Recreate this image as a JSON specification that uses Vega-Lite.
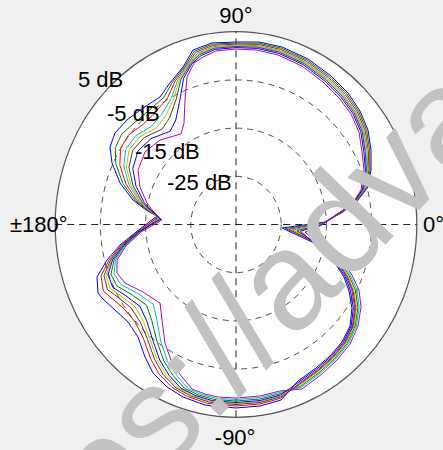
{
"$schema": "https://vega.github.io/schema/vega-lite/v6.json",
"width": 443, "height": 450, "autosize": {"type": "none"}, "padding": 0,
"background": "#f0f0f0",
"config": {"view": {"stroke": null}},
"datasets": {
"outer": [{"r": 40}],
"rings": [{"r": 10}, {"r": 20}, {"r": 30}],
"axes": [{"x": -40, "x2": 40, "y": 0, "y2": 0}, {"x": 0, "x2": 0, "y": -40, "y2": 40}],
"labelsLeft": [{"t": "5 dB", "x": -34.96, "y": 28.53}, {"t": "-5 dB", "x": -28.54, "y": 21.47}, {"t": "-15 dB", "x": -22.35, "y": 13.59}, {"t": "-25 dB", "x": -15.27, "y": 7.16}, {"t": "±180°", "x": -50.0, "y": -1.56}, {"t": "0°", "x": 41.37, "y": -1.56}],
"labelsCenter": [{"t": "90°", "x": 0, "y": 41.8}, {"t": "-90°", "x": -0.2, "y": -45.75}],
"curves": [
{"s":"b1","i":1,"x":10.18,"y":-0.73},{"s":"b1","i":2,"x":19.69,"y":0.52},{"s":"b1","i":3,"x":23.67,"y":2.59},{"s":"b1","i":4,"x":26.99,"y":5.08},{"s":"b1","i":5,"x":29.2,"y":7.78},{"s":"b1","i":6,"x":29.87,"y":11.31},{"s":"b1","i":7,"x":29.87,"y":15.46},{"s":"b1","i":8,"x":29.2,"y":19.61},{"s":"b1","i":9,"x":27.43,"y":23.55},{"s":"b1","i":10,"x":24.78,"y":27.28},{"s":"b1","i":11,"x":21.02,"y":30.81},{"s":"b1","i":12,"x":15.93,"y":34.34},{"s":"b1","i":13,"x":10.18,"y":36.83},{"s":"b1","i":14,"x":5.09,"y":37.86},{"s":"b1","i":15,"x":0,"y":37.86},{"s":"b1","i":16,"x":-5.31,"y":37.66},{"s":"b1","i":17,"x":-9.51,"y":36.2},{"s":"b1","i":18,"x":-11.73,"y":32.68},{"s":"b1","i":19,"x":-14.6,"y":29.36},{"s":"b1","i":20,"x":-16.81,"y":26.45},{"s":"b1","i":21,"x":-20.58,"y":24.17},{"s":"b1","i":22,"x":-24.12,"y":21.68},{"s":"b1","i":23,"x":-26.77,"y":18.98},{"s":"b1","i":24,"x":-27.88,"y":16.08},{"s":"b1","i":25,"x":-27.43,"y":12.76},{"s":"b1","i":26,"x":-25.66,"y":8.61},{"s":"b1","i":27,"x":-22.79,"y":5.08},{"s":"b1","i":28,"x":-19.91,"y":3.01},{"s":"b1","i":29,"x":-17.48,"y":1.76},{"s":"b1","i":30,"x":-22.12,"y":-1.56},{"s":"b1","i":31,"x":-25.66,"y":-4.25},{"s":"b1","i":32,"x":-28.54,"y":-7.37},{"s":"b1","i":33,"x":-30.75,"y":-10.89},{"s":"b1","i":34,"x":-30.53,"y":-14.21},{"s":"b1","i":35,"x":-29.43,"y":-15.46},{"s":"b1","i":36,"x":-26.77,"y":-17.74},{"s":"b1","i":37,"x":-23.89,"y":-20.23},{"s":"b1","i":38,"x":-21.68,"y":-23.34},{"s":"b1","i":39,"x":-20.13,"y":-27.49},{"s":"b1","i":40,"x":-18.36,"y":-30.81},{"s":"b1","i":41,"x":-15.27,"y":-33.71},{"s":"b1","i":42,"x":-11.73,"y":-35.79},{"s":"b1","i":43,"x":-6.86,"y":-37.45},{"s":"b1","i":44,"x":0,"y":-38.07},{"s":"b1","i":45,"x":5.31,"y":-37.66},{"s":"b1","i":46,"x":9.96,"y":-36.41},{"s":"b1","i":47,"x":13.72,"y":-32.47},{"s":"b1","i":48,"x":17.7,"y":-29.77},{"s":"b1","i":49,"x":20.8,"y":-27.28},{"s":"b1","i":50,"x":23.45,"y":-24.38},{"s":"b1","i":51,"x":25.22,"y":-21.06},{"s":"b1","i":52,"x":25.66,"y":-17.32},{"s":"b1","i":53,"x":25.0,"y":-13.8},{"s":"b1","i":54,"x":23.89,"y":-10.89},{"s":"b1","i":55,"x":21.9,"y":-7.99},{"s":"b1","i":56,"x":19.47,"y":-5.5},{"s":"b1","i":57,"x":16.81,"y":-3.63},{"s":"b1","i":58,"x":10.18,"y":-0.73},
{"s":"g","i":1,"x":10.94,"y":-0.85},{"s":"g","i":2,"x":19.52,"y":0.4},{"s":"g","i":3,"x":23.47,"y":2.53},{"s":"g","i":4,"x":26.79,"y":4.96},{"s":"g","i":5,"x":28.97,"y":7.69},{"s":"g","i":6,"x":29.64,"y":11.31},{"s":"g","i":7,"x":29.57,"y":15.4},{"s":"g","i":8,"x":28.9,"y":19.55},{"s":"g","i":9,"x":27.13,"y":23.46},{"s":"g","i":10,"x":24.48,"y":27.12},{"s":"g","i":11,"x":20.75,"y":30.62},{"s":"g","i":12,"x":15.73,"y":34.12},{"s":"g","i":13,"x":10.05,"y":36.58},{"s":"g","i":14,"x":5.02,"y":37.61},{"s":"g","i":15,"x":0,"y":37.64},{"s":"g","i":16,"x":-5.18,"y":37.41},{"s":"g","i":17,"x":-9.18,"y":35.98},{"s":"g","i":18,"x":-11.36,"y":32.8},{"s":"g","i":19,"x":-14.04,"y":29.55},{"s":"g","i":20,"x":-15.98,"y":26.36},{"s":"g","i":21,"x":-19.22,"y":23.7},{"s":"g","i":22,"x":-22.33,"y":21.24},{"s":"g","i":23,"x":-25.28,"y":18.76},{"s":"g","i":24,"x":-26.72,"y":15.92},{"s":"g","i":25,"x":-26.57,"y":12.54},{"s":"g","i":26,"x":-25.0,"y":8.49},{"s":"g","i":27,"x":-22.32,"y":4.99},{"s":"g","i":28,"x":-19.68,"y":2.98},{"s":"g","i":29,"x":-17.31,"y":1.64},{"s":"g","i":30,"x":-21.35,"y":-1.56},{"s":"g","i":31,"x":-24.74,"y":-4.4},{"s":"g","i":32,"x":-26.99,"y":-7.37},{"s":"g","i":33,"x":-27.66,"y":-10.31},{"s":"g","i":34,"x":-26.35,"y":-12.76},{"s":"g","i":35,"x":-23.23,"y":-14.44},{"s":"g","i":36,"x":-19.8,"y":-16.72},{"s":"g","i":37,"x":-18.63,"y":-19.94},{"s":"g","i":38,"x":-17.5,"y":-24.22},{"s":"g","i":39,"x":-15.95,"y":-28.36},{"s":"g","i":40,"x":-13.87,"y":-31.39},{"s":"g","i":41,"x":-11.39,"y":-34.0},{"s":"g","i":42,"x":-8.32,"y":-35.36},{"s":"g","i":43,"x":-4.84,"y":-36.29},{"s":"g","i":44,"x":0,"y":-36.62},{"s":"g","i":45,"x":5.31,"y":-36.2},{"s":"g","i":46,"x":9.8,"y":-35.1},{"s":"g","i":47,"x":14.29,"y":-33.55},{"s":"g","i":48,"x":18.56,"y":-30.58},{"s":"g","i":49,"x":21.81,"y":-27.82},{"s":"g","i":50,"x":24.6,"y":-24.65},{"s":"g","i":51,"x":26.37,"y":-21.06},{"s":"g","i":52,"x":26.96,"y":-17.19},{"s":"g","i":53,"x":26.44,"y":-13.66},{"s":"g","i":54,"x":25.04,"y":-10.62},{"s":"g","i":55,"x":22.91,"y":-7.72},{"s":"g","i":56,"x":20.33,"y":-5.36},{"s":"g","i":57,"x":17.1,"y":-3.36},{"s":"g","i":58,"x":10.94,"y":-0.85},
{"s":"r","i":1,"x":11.71,"y":-0.98},{"s":"r","i":2,"x":19.36,"y":0.27},{"s":"r","i":3,"x":23.27,"y":2.47},{"s":"r","i":4,"x":26.59,"y":4.83},{"s":"r","i":5,"x":28.74,"y":7.59},{"s":"r","i":6,"x":29.41,"y":11.31},{"s":"r","i":7,"x":29.27,"y":15.33},{"s":"r","i":8,"x":28.6,"y":19.48},{"s":"r","i":9,"x":26.83,"y":23.36},{"s":"r","i":10,"x":24.18,"y":26.97},{"s":"r","i":11,"x":20.49,"y":30.44},{"s":"r","i":12,"x":15.53,"y":33.9},{"s":"r","i":13,"x":9.91,"y":36.33},{"s":"r","i":14,"x":4.96,"y":37.36},{"s":"r","i":15,"x":0,"y":37.43},{"s":"r","i":16,"x":-5.04,"y":37.16},{"s":"r","i":17,"x":-8.85,"y":35.77},{"s":"r","i":18,"x":-11.0,"y":32.93},{"s":"r","i":19,"x":-13.47,"y":29.73},{"s":"r","i":20,"x":-15.15,"y":26.26},{"s":"r","i":21,"x":-17.86,"y":23.24},{"s":"r","i":22,"x":-20.53,"y":20.81},{"s":"r","i":23,"x":-23.78,"y":18.54},{"s":"r","i":24,"x":-25.55,"y":15.77},{"s":"r","i":25,"x":-25.7,"y":12.32},{"s":"r","i":26,"x":-24.33,"y":8.36},{"s":"r","i":27,"x":-21.86,"y":4.89},{"s":"r","i":28,"x":-19.45,"y":2.95},{"s":"r","i":29,"x":-17.15,"y":1.51},{"s":"r","i":30,"x":-21.9,"y":-1.56},{"s":"r","i":31,"x":-25.4,"y":-4.29},{"s":"r","i":32,"x":-28.1,"y":-7.37},{"s":"r","i":33,"x":-29.87,"y":-10.72},{"s":"r","i":34,"x":-29.34,"y":-13.8},{"s":"r","i":35,"x":-27.66,"y":-15.17},{"s":"r","i":36,"x":-24.78,"y":-17.45},{"s":"r","i":37,"x":-22.39,"y":-20.15},{"s":"r","i":38,"x":-20.49,"y":-23.59},{"s":"r","i":39,"x":-18.94,"y":-27.74},{"s":"r","i":40,"x":-17.08,"y":-30.98},{"s":"r","i":41,"x":-14.16,"y":-33.79},{"s":"r","i":42,"x":-10.76,"y":-35.67},{"s":"r","i":43,"x":-6.28,"y":-37.12},{"s":"r","i":44,"x":0,"y":-37.66},{"s":"r","i":45,"x":5.31,"y":-37.24},{"s":"r","i":46,"x":9.91,"y":-36.04},{"s":"r","i":47,"x":13.98,"y":-32.97},{"s":"r","i":48,"x":18.1,"y":-30.14},{"s":"r","i":49,"x":21.27,"y":-27.53},{"s":"r","i":50,"x":23.98,"y":-24.5},{"s":"r","i":51,"x":25.75,"y":-21.06},{"s":"r","i":52,"x":26.26,"y":-17.26},{"s":"r","i":53,"x":25.66,"y":-13.74},{"s":"r","i":54,"x":24.42,"y":-10.77},{"s":"r","i":55,"x":22.37,"y":-7.86},{"s":"r","i":56,"x":19.87,"y":-5.44},{"s":"r","i":57,"x":16.95,"y":-3.51},{"s":"r","i":58,"x":11.71,"y":-0.98},
{"s":"c","i":1,"x":12.47,"y":-1.1},{"s":"c","i":2,"x":19.19,"y":0.15},{"s":"c","i":3,"x":23.08,"y":2.41},{"s":"c","i":4,"x":26.39,"y":4.71},{"s":"c","i":5,"x":28.51,"y":7.5},{"s":"c","i":6,"x":29.17,"y":11.31},{"s":"c","i":7,"x":28.97,"y":15.27},{"s":"c","i":8,"x":28.3,"y":19.42},{"s":"c","i":9,"x":26.53,"y":23.27},{"s":"c","i":10,"x":23.88,"y":26.81},{"s":"c","i":11,"x":20.22,"y":30.25},{"s":"c","i":12,"x":15.33,"y":33.68},{"s":"c","i":13,"x":9.78,"y":36.08},{"s":"c","i":14,"x":4.89,"y":37.11},{"s":"c","i":15,"x":0,"y":37.21},{"s":"c","i":16,"x":-4.91,"y":36.91},{"s":"c","i":17,"x":-8.52,"y":35.55},{"s":"c","i":18,"x":-10.63,"y":33.05},{"s":"c","i":19,"x":-12.91,"y":29.92},{"s":"c","i":20,"x":-14.32,"y":26.17},{"s":"c","i":21,"x":-16.49,"y":22.77},{"s":"c","i":22,"x":-18.74,"y":20.37},{"s":"c","i":23,"x":-22.29,"y":18.33},{"s":"c","i":24,"x":-24.39,"y":15.61},{"s":"c","i":25,"x":-24.84,"y":12.11},{"s":"c","i":26,"x":-23.67,"y":8.24},{"s":"c","i":27,"x":-21.39,"y":4.8},{"s":"c","i":28,"x":-19.21,"y":2.92},{"s":"c","i":29,"x":-16.98,"y":1.39},{"s":"c","i":30,"x":-21.19,"y":-1.56},{"s":"c","i":31,"x":-24.54,"y":-4.43},{"s":"c","i":32,"x":-26.66,"y":-7.37},{"s":"c","i":33,"x":-26.99,"y":-10.18},{"s":"c","i":34,"x":-25.46,"y":-12.45},{"s":"c","i":35,"x":-21.91,"y":-14.22},{"s":"c","i":36,"x":-18.3,"y":-16.51},{"s":"c","i":37,"x":-17.5,"y":-19.87},{"s":"c","i":38,"x":-16.61,"y":-24.4},{"s":"c","i":39,"x":-15.06,"y":-28.54},{"s":"c","i":40,"x":-12.91,"y":-31.52},{"s":"c","i":41,"x":-10.56,"y":-34.07},{"s":"c","i":42,"x":-7.59,"y":-35.26},{"s":"c","i":43,"x":-4.41,"y":-36.04},{"s":"c","i":44,"x":0,"y":-36.31},{"s":"c","i":45,"x":5.31,"y":-35.89},{"s":"c","i":46,"x":9.76,"y":-34.82},{"s":"c","i":47,"x":14.42,"y":-33.8},{"s":"c","i":48,"x":18.76,"y":-30.77},{"s":"c","i":49,"x":22.04,"y":-27.94},{"s":"c","i":50,"x":24.87,"y":-24.71},{"s":"c","i":51,"x":26.64,"y":-21.06},{"s":"c","i":52,"x":27.26,"y":-17.16},{"s":"c","i":53,"x":26.77,"y":-13.63},{"s":"c","i":54,"x":25.31,"y":-10.56},{"s":"c","i":55,"x":23.14,"y":-7.65},{"s":"c","i":56,"x":20.53,"y":-5.33},{"s":"c","i":57,"x":17.17,"y":-3.3},{"s":"c","i":58,"x":12.47,"y":-1.1},
{"s":"y","i":1,"x":12.98,"y":-1.19},{"s":"y","i":2,"x":19.08,"y":0.06},{"s":"y","i":3,"x":22.94,"y":2.36},{"s":"y","i":4,"x":26.26,"y":4.62},{"s":"y","i":5,"x":28.35,"y":7.44},{"s":"y","i":6,"x":29.02,"y":11.31},{"s":"y","i":7,"x":28.78,"y":15.23},{"s":"y","i":8,"x":28.11,"y":19.38},{"s":"y","i":9,"x":26.34,"y":23.21},{"s":"y","i":10,"x":23.69,"y":26.71},{"s":"y","i":11,"x":20.05,"y":30.12},{"s":"y","i":12,"x":15.2,"y":33.54},{"s":"y","i":13,"x":9.69,"y":35.92},{"s":"y","i":14,"x":4.85,"y":36.95},{"s":"y","i":15,"x":0,"y":37.06},{"s":"y","i":16,"x":-4.82,"y":36.75},{"s":"y","i":17,"x":-8.29,"y":35.4},{"s":"y","i":18,"x":-10.39,"y":33.14},{"s":"y","i":19,"x":-12.53,"y":30.04},{"s":"y","i":20,"x":-13.77,"y":26.11},{"s":"y","i":21,"x":-15.59,"y":22.46},{"s":"y","i":22,"x":-17.55,"y":20.08},{"s":"y","i":23,"x":-21.29,"y":18.18},{"s":"y","i":24,"x":-23.62,"y":15.51},{"s":"y","i":25,"x":-24.27,"y":11.96},{"s":"y","i":26,"x":-23.23,"y":8.15},{"s":"y","i":27,"x":-21.08,"y":4.74},{"s":"y","i":28,"x":-19.06,"y":2.89},{"s":"y","i":29,"x":-16.87,"y":1.3},{"s":"y","i":30,"x":-21.63,"y":-1.56},{"s":"y","i":31,"x":-25.07,"y":-4.34},{"s":"y","i":32,"x":-27.55,"y":-7.37},{"s":"y","i":33,"x":-28.76,"y":-10.52},{"s":"y","i":34,"x":-27.84,"y":-13.28},{"s":"y","i":35,"x":-25.45,"y":-14.8},{"s":"y","i":36,"x":-22.29,"y":-17.09},{"s":"y","i":37,"x":-20.51,"y":-20.04},{"s":"y","i":38,"x":-18.99,"y":-23.9},{"s":"y","i":39,"x":-17.44,"y":-28.05},{"s":"y","i":40,"x":-15.48,"y":-31.18},{"s":"y","i":41,"x":-12.78,"y":-33.9},{"s":"y","i":42,"x":-9.54,"y":-35.51},{"s":"y","i":43,"x":-5.56,"y":-36.7},{"s":"y","i":44,"x":0,"y":-37.14},{"s":"y","i":45,"x":5.31,"y":-36.72},{"s":"y","i":46,"x":9.86,"y":-35.57},{"s":"y","i":47,"x":14.16,"y":-33.3},{"s":"y","i":48,"x":18.36,"y":-30.39},{"s":"y","i":49,"x":21.58,"y":-27.7},{"s":"y","i":50,"x":24.34,"y":-24.59},{"s":"y","i":51,"x":26.11,"y":-21.06},{"s":"y","i":52,"x":26.66,"y":-17.22},{"s":"y","i":53,"x":26.11,"y":-13.7},{"s":"y","i":54,"x":24.78,"y":-10.69},{"s":"y","i":55,"x":22.68,"y":-7.78},{"s":"y","i":56,"x":20.14,"y":-5.4},{"s":"y","i":57,"x":17.04,"y":-3.43},{"s":"y","i":58,"x":12.98,"y":-1.19},
{"s":"k","i":1,"x":13.49,"y":-1.27},{"s":"k","i":2,"x":18.97,"y":-0.02},{"s":"k","i":3,"x":22.81,"y":2.32},{"s":"k","i":4,"x":26.13,"y":4.54},{"s":"k","i":5,"x":28.2,"y":7.38},{"s":"k","i":6,"x":28.86,"y":11.31},{"s":"k","i":7,"x":28.58,"y":15.19},{"s":"k","i":8,"x":27.91,"y":19.34},{"s":"k","i":9,"x":26.14,"y":23.15},{"s":"k","i":10,"x":23.49,"y":26.6},{"s":"k","i":11,"x":19.87,"y":30.0},{"s":"k","i":12,"x":15.07,"y":33.39},{"s":"k","i":13,"x":9.6,"y":35.75},{"s":"k","i":14,"x":4.8,"y":36.78},{"s":"k","i":15,"x":0,"y":36.92},{"s":"k","i":16,"x":-4.73,"y":36.58},{"s":"k","i":17,"x":-8.07,"y":35.26},{"s":"k","i":18,"x":-10.14,"y":33.22},{"s":"k","i":19,"x":-12.16,"y":30.17},{"s":"k","i":20,"x":-13.22,"y":26.05},{"s":"k","i":21,"x":-14.68,"y":22.15},{"s":"k","i":22,"x":-16.35,"y":19.79},{"s":"k","i":23,"x":-20.3,"y":18.04},{"s":"k","i":24,"x":-22.84,"y":15.4},{"s":"k","i":25,"x":-23.69,"y":11.82},{"s":"k","i":26,"x":-22.79,"y":8.07},{"s":"k","i":27,"x":-20.77,"y":4.68},{"s":"k","i":28,"x":-18.9,"y":2.87},{"s":"k","i":29,"x":-16.76,"y":1.22},{"s":"k","i":30,"x":-21.74,"y":-1.56},{"s":"k","i":31,"x":-25.2,"y":-4.32},{"s":"k","i":32,"x":-27.77,"y":-7.37},{"s":"k","i":33,"x":-29.2,"y":-10.6},{"s":"k","i":34,"x":-28.44,"y":-13.49},{"s":"k","i":35,"x":-26.33,"y":-14.95},{"s":"k","i":36,"x":-23.28,"y":-17.23},{"s":"k","i":37,"x":-21.26,"y":-20.08},{"s":"k","i":38,"x":-19.59,"y":-23.78},{"s":"k","i":39,"x":-18.04,"y":-27.92},{"s":"k","i":40,"x":-16.12,"y":-31.1},{"s":"k","i":41,"x":-13.33,"y":-33.86},{"s":"k","i":42,"x":-10.03,"y":-35.57},{"s":"k","i":43,"x":-5.85,"y":-36.87},{"s":"k","i":44,"x":0,"y":-37.35},{"s":"k","i":45,"x":5.31,"y":-36.93},{"s":"k","i":46,"x":9.88,"y":-35.76},{"s":"k","i":47,"x":14.07,"y":-33.13},{"s":"k","i":48,"x":18.23,"y":-30.27},{"s":"k","i":49,"x":21.42,"y":-27.61},{"s":"k","i":50,"x":24.16,"y":-24.54},{"s":"k","i":51,"x":25.93,"y":-21.06},{"s":"k","i":52,"x":26.46,"y":-17.24},{"s":"k","i":53,"x":25.88,"y":-13.72},{"s":"k","i":54,"x":24.6,"y":-10.73},{"s":"k","i":55,"x":22.52,"y":-7.82},{"s":"k","i":56,"x":20.0,"y":-5.42},{"s":"k","i":57,"x":16.99,"y":-3.47},{"s":"k","i":58,"x":13.49,"y":-1.27},
{"s":"b2","i":1,"x":14.25,"y":-1.39},{"s":"b2","i":2,"x":18.8,"y":-0.14},{"s":"b2","i":3,"x":22.61,"y":2.26},{"s":"b2","i":4,"x":25.93,"y":4.42},{"s":"b2","i":5,"x":27.97,"y":7.28},{"s":"b2","i":6,"x":28.63,"y":11.31},{"s":"b2","i":7,"x":28.28,"y":15.12},{"s":"b2","i":8,"x":27.61,"y":19.27},{"s":"b2","i":9,"x":25.84,"y":23.05},{"s":"b2","i":10,"x":23.19,"y":26.45},{"s":"b2","i":11,"x":19.6,"y":29.81},{"s":"b2","i":12,"x":14.87,"y":33.17},{"s":"b2","i":13,"x":9.47,"y":35.5},{"s":"b2","i":14,"x":4.74,"y":36.53},{"s":"b2","i":15,"x":0,"y":36.7},{"s":"b2","i":16,"x":-4.6,"y":36.33},{"s":"b2","i":17,"x":-7.74,"y":35.04},{"s":"b2","i":18,"x":-9.78,"y":33.34},{"s":"b2","i":19,"x":-11.59,"y":30.35},{"s":"b2","i":20,"x":-12.39,"y":25.95},{"s":"b2","i":21,"x":-13.32,"y":21.68},{"s":"b2","i":22,"x":-14.56,"y":19.36},{"s":"b2","i":23,"x":-18.8,"y":17.82},{"s":"b2","i":24,"x":-21.68,"y":15.25},{"s":"b2","i":25,"x":-22.83,"y":11.6},{"s":"b2","i":26,"x":-22.12,"y":7.95},{"s":"b2","i":27,"x":-20.31,"y":4.58},{"s":"b2","i":28,"x":-18.67,"y":2.84},{"s":"b2","i":29,"x":-16.59,"y":1.1},{"s":"b2","i":30,"x":-21.52,"y":-1.56},{"s":"b2","i":31,"x":-24.93,"y":-4.37},{"s":"b2","i":32,"x":-27.32,"y":-7.37},{"s":"b2","i":33,"x":-28.32,"y":-10.43},{"s":"b2","i":34,"x":-27.25,"y":-13.07},{"s":"b2","i":35,"x":-24.56,"y":-14.66},{"s":"b2","i":36,"x":-21.29,"y":-16.94},{"s":"b2","i":37,"x":-19.75,"y":-20.0},{"s":"b2","i":38,"x":-18.4,"y":-24.03},{"s":"b2","i":39,"x":-16.85,"y":-28.17},{"s":"b2","i":40,"x":-14.83,"y":-31.27},{"s":"b2","i":41,"x":-12.22,"y":-33.94},{"s":"b2","i":42,"x":-9.05,"y":-35.45},{"s":"b2","i":43,"x":-5.28,"y":-36.54},{"s":"b2","i":44,"x":0,"y":-36.93},{"s":"b2","i":45,"x":5.31,"y":-36.52},{"s":"b2","i":46,"x":9.83,"y":-35.38},{"s":"b2","i":47,"x":13.85,"y":-32.72},{"s":"b2","i":48,"x":17.9,"y":-29.96},{"s":"b2","i":49,"x":21.03,"y":-27.4},{"s":"b2","i":50,"x":23.72,"y":-24.44},{"s":"b2","i":51,"x":25.49,"y":-21.06},{"s":"b2","i":52,"x":25.96,"y":-17.29},{"s":"b2","i":53,"x":25.33,"y":-13.77},{"s":"b2","i":54,"x":24.16,"y":-10.83},{"s":"b2","i":55,"x":22.13,"y":-7.93},{"s":"b2","i":56,"x":19.67,"y":-5.47},{"s":"b2","i":57,"x":16.88,"y":-3.57},{"s":"b2","i":58,"x":14.25,"y":-1.39},
{"s":"m","i":1,"x":15.27,"y":-1.56},{"s":"m","i":2,"x":18.58,"y":-0.31},{"s":"m","i":3,"x":22.35,"y":2.18},{"s":"m","i":4,"x":25.66,"y":4.25},{"s":"m","i":5,"x":27.66,"y":7.16},{"s":"m","i":6,"x":28.32,"y":11.31},{"s":"m","i":7,"x":27.88,"y":15.04},{"s":"m","i":8,"x":27.21,"y":19.19},{"s":"m","i":9,"x":25.44,"y":22.93},{"s":"m","i":10,"x":22.79,"y":26.24},{"s":"m","i":11,"x":19.25,"y":29.56},{"s":"m","i":12,"x":14.6,"y":32.88},{"s":"m","i":13,"x":9.29,"y":35.17},{"s":"m","i":14,"x":4.65,"y":36.2},{"s":"m","i":15,"x":0,"y":36.41},{"s":"m","i":16,"x":-4.42,"y":36.0},{"s":"m","i":17,"x":-7.3,"y":34.75},{"s":"m","i":18,"x":-9.29,"y":33.51},{"s":"m","i":19,"x":-10.84,"y":30.6},{"s":"m","i":20,"x":-11.28,"y":25.83},{"s":"m","i":21,"x":-11.5,"y":21.06},{"s":"m","i":22,"x":-12.17,"y":18.78},{"s":"m","i":23,"x":-16.81,"y":17.53},{"s":"m","i":24,"x":-20.13,"y":15.04},{"s":"m","i":25,"x":-21.68,"y":11.31},{"s":"m","i":26,"x":-21.24,"y":7.78},{"s":"m","i":27,"x":-19.69,"y":4.46},{"s":"m","i":28,"x":-18.36,"y":2.8},{"s":"m","i":29,"x":-16.37,"y":0.93},{"s":"m","i":30,"x":-21.02,"y":-1.56},{"s":"m","i":31,"x":-24.34,"y":-4.46},{"s":"m","i":32,"x":-26.33,"y":-7.37},{"s":"m","i":33,"x":-26.33,"y":-10.06},{"s":"m","i":34,"x":-24.56,"y":-12.14},{"s":"m","i":35,"x":-20.58,"y":-14.0},{"s":"m","i":36,"x":-16.81,"y":-16.29},{"s":"m","i":37,"x":-16.37,"y":-19.81},{"s":"m","i":38,"x":-15.71,"y":-24.59},{"s":"m","i":39,"x":-14.16,"y":-28.73},{"s":"m","i":40,"x":-11.95,"y":-31.64},{"s":"m","i":41,"x":-9.73,"y":-34.13},{"s":"m","i":42,"x":-6.86,"y":-35.17},{"s":"m","i":43,"x":-3.98,"y":-35.79},{"s":"m","i":44,"x":0,"y":-36.0},{"s":"m","i":45,"x":5.31,"y":-35.58},{"s":"m","i":46,"x":9.73,"y":-34.54},{"s":"m","i":47,"x":14.6,"y":-34.13},{"s":"m","i":48,"x":19.03,"y":-31.02},{"s":"m","i":49,"x":22.35,"y":-28.11},{"s":"m","i":50,"x":25.22,"y":-24.79},{"s":"m","i":51,"x":26.99,"y":-21.06},{"s":"m","i":52,"x":27.66,"y":-17.12},{"s":"m","i":53,"x":27.21,"y":-13.59},{"s":"m","i":54,"x":25.66,"y":-10.48},{"s":"m","i":55,"x":23.45,"y":-7.57},{"s":"m","i":56,"x":20.8,"y":-5.29},{"s":"m","i":57,"x":17.26,"y":-3.22},{"s":"m","i":58,"x":15.27,"y":-1.56}
]
},
"layer": [
{"data": {"name": "outer"},
 "mark": {"type": "point", "shape": "M0.9378,0C0.9378,0.5523,0.518,1,0,1C-0.518,1,-0.9378,0.5523,-0.9378,0C-0.9378,-0.5523,-0.518,-1,0,-1C0.518,-1,0.9378,-0.5523,0.9378,0Z", "filled": true, "fill": "#ffffff", "stroke": "#555555", "strokeWidth": 1.2, "opacity": 1, "fillOpacity": 1, "strokeOpacity": 1},
 "encoding": {
  "x": {"datum": 0, "type": "quantitative", "scale": {"domain": [-52.212, 45.796], "nice": false, "zero": false}, "axis": null},
  "y": {"datum": 0, "type": "quantitative", "scale": {"domain": [-46.784, 46.577], "nice": false, "zero": false}, "axis": null},
  "size": {"field": "r", "type": "quantitative", "scale": {"type": "pow", "exponent": 2, "domain": [0, 40], "range": [0, 148687]}, "legend": null}
 }},
{"data": {"name": "rings"},
 "mark": {"type": "point", "shape": "M0.9378,0C0.9378,0.5523,0.518,1,0,1C-0.518,1,-0.9378,0.5523,-0.9378,0C-0.9378,-0.5523,-0.518,-1,0,-1C0.518,-1,0.9378,-0.5523,0.9378,0Z", "filled": false, "stroke": "#555555", "strokeWidth": 1, "strokeDash": [6, 5], "opacity": 1},
 "encoding": {
  "x": {"datum": 0, "type": "quantitative", "scale": {"domain": [-52.212, 45.796], "nice": false, "zero": false}, "axis": null},
  "y": {"datum": 0, "type": "quantitative", "scale": {"domain": [-46.784, 46.577], "nice": false, "zero": false}, "axis": null},
  "size": {"field": "r", "type": "quantitative", "scale": {"type": "pow", "exponent": 2, "domain": [0, 40], "range": [0, 148687]}, "legend": null}
 }},
{"data": {"name": "axes"},
 "mark": {"type": "rule", "color": "#222222", "strokeWidth": 1, "strokeDash": [7, 5]},
 "encoding": {
  "x": {"field": "x", "type": "quantitative", "scale": {"domain": [-52.212, 45.796], "nice": false, "zero": false}, "axis": null},
  "x2": {"field": "x2"},
  "y": {"field": "y", "type": "quantitative", "scale": {"domain": [-46.784, 46.577], "nice": false, "zero": false}, "axis": null},
  "y2": {"field": "y2"}
 }},
{"data": {"name": "curves"},
 "mark": {"type": "line", "strokeWidth": 1, "interpolate": "linear"},
 "encoding": {
  "x": {"field": "x", "type": "quantitative", "scale": {"domain": [-52.212, 45.796], "nice": false, "zero": false}, "axis": null},
  "y": {"field": "y", "type": "quantitative", "scale": {"domain": [-46.784, 46.577], "nice": false, "zero": false}, "axis": null},
  "color": {"field": "s", "type": "nominal", "scale": {"domain": ["b1", "g", "r", "c", "m", "y", "k", "b2"], "range": ["#0000ff", "#008000", "#ff0000", "#00bfbf", "#bf00bf", "#bfbf00", "#404040", "#0000ff"]}, "legend": null},
  "order": {"field": "i", "type": "quantitative"}
 }},
{"data": {"name": "labelsLeft"},
 "mark": {"type": "text", "align": "left", "baseline": "alphabetic", "font": "Liberation Sans", "fontSize": 22, "color": "#000000"},
 "encoding": {
  "x": {"field": "x", "type": "quantitative", "scale": {"domain": [-52.212, 45.796], "nice": false, "zero": false}, "axis": null},
  "y": {"field": "y", "type": "quantitative", "scale": {"domain": [-46.784, 46.577], "nice": false, "zero": false}, "axis": null},
  "text": {"field": "t"}
 }},
{"data": {"name": "labelsCenter"},
 "mark": {"type": "text", "align": "center", "baseline": "alphabetic", "font": "Liberation Sans", "fontSize": 22, "color": "#000000"},
 "encoding": {
  "x": {"field": "x", "type": "quantitative", "scale": {"domain": [-52.212, 45.796], "nice": false, "zero": false}, "axis": null},
  "y": {"field": "y", "type": "quantitative", "scale": {"domain": [-46.784, 46.577], "nice": false, "zero": false}, "axis": null},
  "text": {"field": "t"}
 }},
{"data": {"values": [{"t": "https://advav"}]},
 "mark": {"type": "text", "align": "left", "baseline": "alphabetic", "font": "Liberation Sans", "fontSize": 140, "angle": -46, "color": "#c2c2c2"},
 "encoding": {
  "x": {"datum": -52.2, "type": "quantitative", "scale": {"domain": [-52.212, 45.796], "nice": false, "zero": false}, "axis": null},
  "y": {"datum": -87.0, "type": "quantitative", "scale": {"domain": [-46.784, 46.577], "nice": false, "zero": false}, "axis": null},
  "text": {"field": "t"}
 }}
]
}
